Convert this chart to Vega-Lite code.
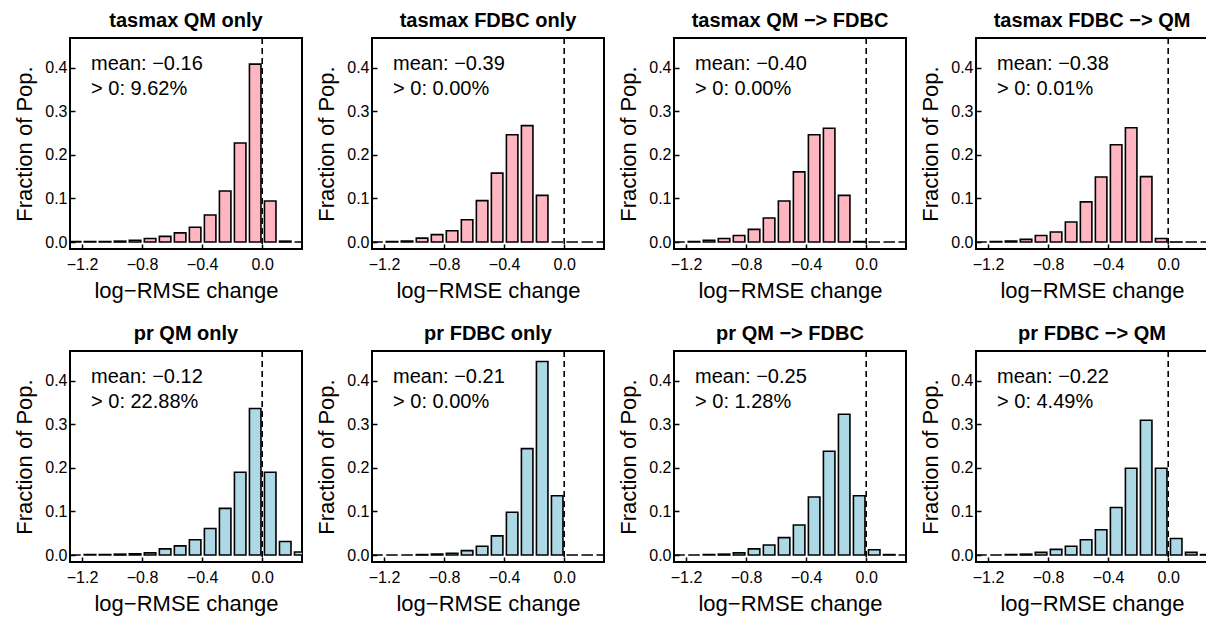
{
  "$schema": "https://vega.github.io/schema/vega-lite/v6.json",
  "background": "white",
  "padding": {"left": 12, "top": 10, "right": 2, "bottom": 2},
  "bounds": "flush",
  "spacing": {"column": 70, "row": 102},
  "columns": 4,
  "config": {
    "font": "Liberation Sans",
    "view": {"stroke": "black", "strokeWidth": 2},
    "axis": {"grid": false, "domain": false, "tickColor": "black", "tickWidth": 1.5, "tickSize": -5, "labelColor": "black", "titleColor": "black", "titleFontWeight": "normal", "labelFont": "Liberation Sans", "titleFont": "Liberation Sans"}
  },
  "data": {"values": [
    {"t":"lab","p":"tasmax QM only","m":"mean: −0.16","g":"> 0: 9.62%"},
    {"t":"lab","p":"tasmax FDBC only","m":"mean: −0.39","g":"> 0: 0.00%"},
    {"t":"lab","p":"tasmax QM −> FDBC","m":"mean: −0.40","g":"> 0: 0.00%"},
    {"t":"lab","p":"tasmax FDBC −> QM","m":"mean: −0.38","g":"> 0: 0.01%"},
    {"t":"lab","p":"pr QM only","m":"mean: −0.12","g":"> 0: 22.88%"},
    {"t":"lab","p":"pr FDBC only","m":"mean: −0.21","g":"> 0: 0.00%"},
    {"t":"lab","p":"pr QM −> FDBC","m":"mean: −0.25","g":"> 0: 1.28%"},
    {"t":"lab","p":"pr FDBC −> QM","m":"mean: −0.22","g":"> 0: 4.49%"},

    {"t":"bar","p":"tasmax QM only","a":-1.3,"b":-1.2,"f":0.001},
    {"t":"bar","p":"tasmax QM only","a":-1.2,"b":-1.1,"f":0.001},
    {"t":"bar","p":"tasmax QM only","a":-1.1,"b":-1.0,"f":0.001},
    {"t":"bar","p":"tasmax QM only","a":-1.0,"b":-0.9,"f":0.002},
    {"t":"bar","p":"tasmax QM only","a":-0.9,"b":-0.8,"f":0.004},
    {"t":"bar","p":"tasmax QM only","a":-0.8,"b":-0.7,"f":0.008},
    {"t":"bar","p":"tasmax QM only","a":-0.7,"b":-0.6,"f":0.013},
    {"t":"bar","p":"tasmax QM only","a":-0.6,"b":-0.5,"f":0.021},
    {"t":"bar","p":"tasmax QM only","a":-0.5,"b":-0.4,"f":0.034},
    {"t":"bar","p":"tasmax QM only","a":-0.4,"b":-0.3,"f":0.062},
    {"t":"bar","p":"tasmax QM only","a":-0.3,"b":-0.2,"f":0.117},
    {"t":"bar","p":"tasmax QM only","a":-0.2,"b":-0.1,"f":0.227},
    {"t":"bar","p":"tasmax QM only","a":-0.1,"b":0.0,"f":0.408},
    {"t":"bar","p":"tasmax QM only","a":0.0,"b":0.1,"f":0.094},
    {"t":"bar","p":"tasmax QM only","a":0.1,"b":0.2,"f":0.002},
    {"t":"bar","p":"tasmax QM only","a":0.2,"b":0.3,"f":0},

    {"t":"bar","p":"tasmax FDBC only","a":-1.3,"b":-1.2,"f":0},
    {"t":"bar","p":"tasmax FDBC only","a":-1.2,"b":-1.1,"f":0.001},
    {"t":"bar","p":"tasmax FDBC only","a":-1.1,"b":-1.0,"f":0.002},
    {"t":"bar","p":"tasmax FDBC only","a":-1.0,"b":-0.9,"f":0.009},
    {"t":"bar","p":"tasmax FDBC only","a":-0.9,"b":-0.8,"f":0.017},
    {"t":"bar","p":"tasmax FDBC only","a":-0.8,"b":-0.7,"f":0.026},
    {"t":"bar","p":"tasmax FDBC only","a":-0.7,"b":-0.6,"f":0.051},
    {"t":"bar","p":"tasmax FDBC only","a":-0.6,"b":-0.5,"f":0.095},
    {"t":"bar","p":"tasmax FDBC only","a":-0.5,"b":-0.4,"f":0.158},
    {"t":"bar","p":"tasmax FDBC only","a":-0.4,"b":-0.3,"f":0.246},
    {"t":"bar","p":"tasmax FDBC only","a":-0.3,"b":-0.2,"f":0.267},
    {"t":"bar","p":"tasmax FDBC only","a":-0.2,"b":-0.1,"f":0.107},
    {"t":"bar","p":"tasmax FDBC only","a":-0.1,"b":0.0,"f":0},
    {"t":"bar","p":"tasmax FDBC only","a":0.0,"b":0.1,"f":0},
    {"t":"bar","p":"tasmax FDBC only","a":0.1,"b":0.2,"f":0},
    {"t":"bar","p":"tasmax FDBC only","a":0.2,"b":0.3,"f":0},

    {"t":"bar","p":"tasmax QM −> FDBC","a":-1.3,"b":-1.2,"f":0},
    {"t":"bar","p":"tasmax QM −> FDBC","a":-1.2,"b":-1.1,"f":0.001},
    {"t":"bar","p":"tasmax QM −> FDBC","a":-1.1,"b":-1.0,"f":0.004},
    {"t":"bar","p":"tasmax QM −> FDBC","a":-1.0,"b":-0.9,"f":0.008},
    {"t":"bar","p":"tasmax QM −> FDBC","a":-0.9,"b":-0.8,"f":0.015},
    {"t":"bar","p":"tasmax QM −> FDBC","a":-0.8,"b":-0.7,"f":0.029},
    {"t":"bar","p":"tasmax QM −> FDBC","a":-0.7,"b":-0.6,"f":0.055},
    {"t":"bar","p":"tasmax QM −> FDBC","a":-0.6,"b":-0.5,"f":0.094},
    {"t":"bar","p":"tasmax QM −> FDBC","a":-0.5,"b":-0.4,"f":0.161},
    {"t":"bar","p":"tasmax QM −> FDBC","a":-0.4,"b":-0.3,"f":0.246},
    {"t":"bar","p":"tasmax QM −> FDBC","a":-0.3,"b":-0.2,"f":0.261},
    {"t":"bar","p":"tasmax QM −> FDBC","a":-0.2,"b":-0.1,"f":0.107},
    {"t":"bar","p":"tasmax QM −> FDBC","a":-0.1,"b":0.0,"f":0.001},
    {"t":"bar","p":"tasmax QM −> FDBC","a":0.0,"b":0.1,"f":0},
    {"t":"bar","p":"tasmax QM −> FDBC","a":0.1,"b":0.2,"f":0},
    {"t":"bar","p":"tasmax QM −> FDBC","a":0.2,"b":0.3,"f":0},

    {"t":"bar","p":"tasmax FDBC −> QM","a":-1.3,"b":-1.2,"f":0},
    {"t":"bar","p":"tasmax FDBC −> QM","a":-1.2,"b":-1.1,"f":0.001},
    {"t":"bar","p":"tasmax FDBC −> QM","a":-1.1,"b":-1.0,"f":0.002},
    {"t":"bar","p":"tasmax FDBC −> QM","a":-1.0,"b":-0.9,"f":0.006},
    {"t":"bar","p":"tasmax FDBC −> QM","a":-0.9,"b":-0.8,"f":0.015},
    {"t":"bar","p":"tasmax FDBC −> QM","a":-0.8,"b":-0.7,"f":0.023},
    {"t":"bar","p":"tasmax FDBC −> QM","a":-0.7,"b":-0.6,"f":0.046},
    {"t":"bar","p":"tasmax FDBC −> QM","a":-0.6,"b":-0.5,"f":0.092},
    {"t":"bar","p":"tasmax FDBC −> QM","a":-0.5,"b":-0.4,"f":0.149},
    {"t":"bar","p":"tasmax FDBC −> QM","a":-0.4,"b":-0.3,"f":0.223},
    {"t":"bar","p":"tasmax FDBC −> QM","a":-0.3,"b":-0.2,"f":0.262},
    {"t":"bar","p":"tasmax FDBC −> QM","a":-0.2,"b":-0.1,"f":0.150},
    {"t":"bar","p":"tasmax FDBC −> QM","a":-0.1,"b":0.0,"f":0.008},
    {"t":"bar","p":"tasmax FDBC −> QM","a":0.0,"b":0.1,"f":0.0001},
    {"t":"bar","p":"tasmax FDBC −> QM","a":0.1,"b":0.2,"f":0},
    {"t":"bar","p":"tasmax FDBC −> QM","a":0.2,"b":0.3,"f":0},

    {"t":"bar","p":"pr QM only","a":-1.3,"b":-1.2,"f":0},
    {"t":"bar","p":"pr QM only","a":-1.2,"b":-1.1,"f":0.001},
    {"t":"bar","p":"pr QM only","a":-1.1,"b":-1.0,"f":0.001},
    {"t":"bar","p":"pr QM only","a":-1.0,"b":-0.9,"f":0.002},
    {"t":"bar","p":"pr QM only","a":-0.9,"b":-0.8,"f":0.003},
    {"t":"bar","p":"pr QM only","a":-0.8,"b":-0.7,"f":0.005},
    {"t":"bar","p":"pr QM only","a":-0.7,"b":-0.6,"f":0.014},
    {"t":"bar","p":"pr QM only","a":-0.6,"b":-0.5,"f":0.021},
    {"t":"bar","p":"pr QM only","a":-0.5,"b":-0.4,"f":0.035},
    {"t":"bar","p":"pr QM only","a":-0.4,"b":-0.3,"f":0.061},
    {"t":"bar","p":"pr QM only","a":-0.3,"b":-0.2,"f":0.107},
    {"t":"bar","p":"pr QM only","a":-0.2,"b":-0.1,"f":0.190},
    {"t":"bar","p":"pr QM only","a":-0.1,"b":0.0,"f":0.336},
    {"t":"bar","p":"pr QM only","a":0.0,"b":0.1,"f":0.190},
    {"t":"bar","p":"pr QM only","a":0.1,"b":0.2,"f":0.031},
    {"t":"bar","p":"pr QM only","a":0.2,"b":0.3,"f":0.007},

    {"t":"bar","p":"pr FDBC only","a":-1.3,"b":-1.2,"f":0},
    {"t":"bar","p":"pr FDBC only","a":-1.2,"b":-1.1,"f":0},
    {"t":"bar","p":"pr FDBC only","a":-1.1,"b":-1.0,"f":0},
    {"t":"bar","p":"pr FDBC only","a":-1.0,"b":-0.9,"f":0.001},
    {"t":"bar","p":"pr FDBC only","a":-0.9,"b":-0.8,"f":0.002},
    {"t":"bar","p":"pr FDBC only","a":-0.8,"b":-0.7,"f":0.004},
    {"t":"bar","p":"pr FDBC only","a":-0.7,"b":-0.6,"f":0.010},
    {"t":"bar","p":"pr FDBC only","a":-0.6,"b":-0.5,"f":0.020},
    {"t":"bar","p":"pr FDBC only","a":-0.5,"b":-0.4,"f":0.044},
    {"t":"bar","p":"pr FDBC only","a":-0.4,"b":-0.3,"f":0.098},
    {"t":"bar","p":"pr FDBC only","a":-0.3,"b":-0.2,"f":0.244},
    {"t":"bar","p":"pr FDBC only","a":-0.2,"b":-0.1,"f":0.444},
    {"t":"bar","p":"pr FDBC only","a":-0.1,"b":0.0,"f":0.136},
    {"t":"bar","p":"pr FDBC only","a":0.0,"b":0.1,"f":0},
    {"t":"bar","p":"pr FDBC only","a":0.1,"b":0.2,"f":0},
    {"t":"bar","p":"pr FDBC only","a":0.2,"b":0.3,"f":0},

    {"t":"bar","p":"pr QM −> FDBC","a":-1.3,"b":-1.2,"f":0},
    {"t":"bar","p":"pr QM −> FDBC","a":-1.2,"b":-1.1,"f":0},
    {"t":"bar","p":"pr QM −> FDBC","a":-1.1,"b":-1.0,"f":0.001},
    {"t":"bar","p":"pr QM −> FDBC","a":-1.0,"b":-0.9,"f":0.002},
    {"t":"bar","p":"pr QM −> FDBC","a":-0.9,"b":-0.8,"f":0.005},
    {"t":"bar","p":"pr QM −> FDBC","a":-0.8,"b":-0.7,"f":0.014},
    {"t":"bar","p":"pr QM −> FDBC","a":-0.7,"b":-0.6,"f":0.023},
    {"t":"bar","p":"pr QM −> FDBC","a":-0.6,"b":-0.5,"f":0.040},
    {"t":"bar","p":"pr QM −> FDBC","a":-0.5,"b":-0.4,"f":0.069},
    {"t":"bar","p":"pr QM −> FDBC","a":-0.4,"b":-0.3,"f":0.133},
    {"t":"bar","p":"pr QM −> FDBC","a":-0.3,"b":-0.2,"f":0.238},
    {"t":"bar","p":"pr QM −> FDBC","a":-0.2,"b":-0.1,"f":0.323},
    {"t":"bar","p":"pr QM −> FDBC","a":-0.1,"b":0.0,"f":0.136},
    {"t":"bar","p":"pr QM −> FDBC","a":0.0,"b":0.1,"f":0.012},
    {"t":"bar","p":"pr QM −> FDBC","a":0.1,"b":0.2,"f":0.001},
    {"t":"bar","p":"pr QM −> FDBC","a":0.2,"b":0.3,"f":0},

    {"t":"bar","p":"pr FDBC −> QM","a":-1.3,"b":-1.2,"f":0},
    {"t":"bar","p":"pr FDBC −> QM","a":-1.2,"b":-1.1,"f":0},
    {"t":"bar","p":"pr FDBC −> QM","a":-1.1,"b":-1.0,"f":0.001},
    {"t":"bar","p":"pr FDBC −> QM","a":-1.0,"b":-0.9,"f":0.002},
    {"t":"bar","p":"pr FDBC −> QM","a":-0.9,"b":-0.8,"f":0.006},
    {"t":"bar","p":"pr FDBC −> QM","a":-0.8,"b":-0.7,"f":0.013},
    {"t":"bar","p":"pr FDBC −> QM","a":-0.7,"b":-0.6,"f":0.020},
    {"t":"bar","p":"pr FDBC −> QM","a":-0.6,"b":-0.5,"f":0.035},
    {"t":"bar","p":"pr FDBC −> QM","a":-0.5,"b":-0.4,"f":0.058},
    {"t":"bar","p":"pr FDBC −> QM","a":-0.4,"b":-0.3,"f":0.109},
    {"t":"bar","p":"pr FDBC −> QM","a":-0.3,"b":-0.2,"f":0.199},
    {"t":"bar","p":"pr FDBC −> QM","a":-0.2,"b":-0.1,"f":0.309},
    {"t":"bar","p":"pr FDBC −> QM","a":-0.1,"b":0.0,"f":0.199},
    {"t":"bar","p":"pr FDBC −> QM","a":0.0,"b":0.1,"f":0.038},
    {"t":"bar","p":"pr FDBC −> QM","a":0.1,"b":0.2,"f":0.006},
    {"t":"bar","p":"pr FDBC −> QM","a":0.2,"b":0.3,"f":0.001}
  ]},
  "facet": {
    "field": "p", "type": "nominal",
    "sort": ["tasmax QM only","tasmax FDBC only","tasmax QM −> FDBC","tasmax FDBC −> QM","pr QM only","pr FDBC only","pr QM −> FDBC","pr FDBC −> QM"],
    "header": {"title": null, "labelFontSize": 20, "labelFontWeight": "bold", "labelFont": "Liberation Sans", "labelColor": "black", "labelPadding": 6}
  },
  "resolve": {"axis": {"x": "independent", "y": "independent"}},
  "spec": {
    "width": 232,
    "height": 211,
    "layer": [
      {
        "transform": [{"filter": "datum.t === 'bar'"}],
        "mark": {"type": "bar", "clip": true, "binSpacing": 3.5, "stroke": "black", "strokeWidth": 1.6},
        "encoding": {
          "x": {"field": "a", "type": "quantitative", "bin": "binned",
            "scale": {"domain": [-1.28, 0.265], "nice": false, "zero": false},
            "axis": {"title": "log−RMSE change", "titleFontSize": 22, "titlePadding": 8, "labelFontSize": 16, "labelPadding": 12,
              "values": [-1.2, -1.0, -0.8, -0.6, -0.4, -0.2, 0, 0.2], "format": ".1f",
              "labelExpr": "(datum.value === -1.2 || datum.value === -0.8 || datum.value === -0.4 || datum.value === 0) ? datum.label : ''", "labelOverlap": false}},
          "x2": {"field": "b"},
          "y": {"field": "f", "type": "quantitative",
            "scale": {"domain": [-0.016, 0.468], "nice": false, "zero": false},
            "axis": {"title": "Fraction of Pop.", "titleFontSize": 22, "titlePadding": 8, "labelFontSize": 16, "labelPadding": 8,
              "values": [0, 0.1, 0.2, 0.3, 0.4], "format": ".1f"}},
          "y2": {"datum": 0},
          "color": {"condition": {"test": "datum.p === 'pr QM only' || datum.p === 'pr FDBC only' || datum.p === 'pr QM −> FDBC' || datum.p === 'pr FDBC −> QM'", "value": "#ADD8E6"}, "value": "#FFB6C1"}
        }
      },
      {
        "transform": [{"filter": "datum.t === 'lab'"}],
        "mark": {"type": "rule", "color": "black", "strokeDash": [6, 4], "strokeWidth": 1.6},
        "encoding": {"x": {"datum": 0}}
      },
      {
        "transform": [{"filter": "datum.t === 'lab'"}],
        "mark": {"type": "text", "align": "left", "baseline": "middle", "fontSize": 20, "color": "black"},
        "encoding": {"x": {"datum": -1.14}, "y": {"datum": 0.408}, "text": {"field": "m"}}
      },
      {
        "transform": [{"filter": "datum.t === 'lab'"}],
        "mark": {"type": "text", "align": "left", "baseline": "middle", "fontSize": 20, "color": "black"},
        "encoding": {"x": {"datum": -1.14}, "y": {"datum": 0.35}, "text": {"field": "g"}}
      }
    ]
  }
}
